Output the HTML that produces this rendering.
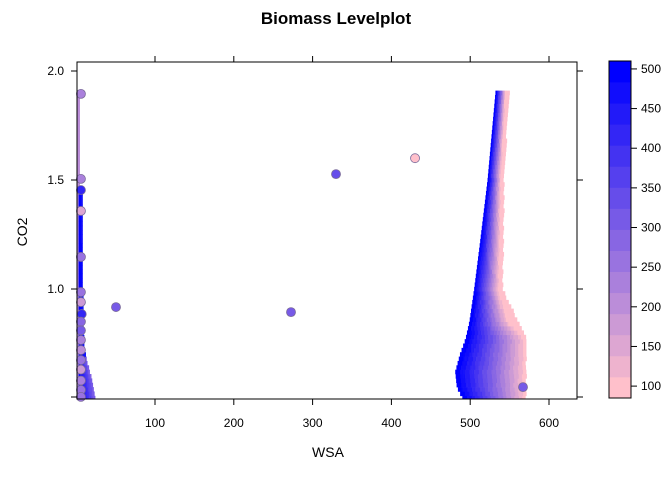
<!DOCTYPE html>
<html><head><meta charset="utf-8"><style>
body{margin:0;background:#fff;font-family:"Liberation Sans",sans-serif}
svg text{font-family:"Liberation Sans",sans-serif}
</style></head><body>
<svg id="c" width="672" height="480"></svg>
<script>
// ---- data ----
const xTicks=[100,200,300,400,500,600];
const yTicks=[1.0,1.5,2.0];
const cbTicks=[100,150,200,250,300,350,400,450,500];
// right region: rows of CO2 with left edge, pink-start, right edge (WSA)
const rCo2  =[0.50,0.55,0.62,0.70,0.77,0.85,1.00,1.20,1.50,1.70,1.90];
const rLeft =[490,483,481,487,494,499,505,512,522,527,532];
const rPink =[570,570,570,570,570,548,536,537,538,541,544];
const rRight=[570,570,570,570,570,560,540,541,542,545,549];
// left blue strip
const lCo2  =[0.50,0.58,0.66,0.72,0.80,1.00,1.45];
const lLeft =[3,3,3,3,3,3,3];
const lRight=[24,20,14,10,9,8,7];
// points
const pWsa=[50.5,272.6,329.7,430,567,6,6,6,6,6,6,6,7,6,6,6,6,6,6,6,6,6];
const pCo2=[0.917,0.894,1.527,1.60,0.55,1.895,1.505,1.454,1.358,1.147,0.986,0.94,0.885,0.85,0.81,0.766,0.72,0.674,0.63,0.58,0.537,0.505];
const pBio=[300,300,330,110,300,240,240,420,150,260,250,180,420,280,300,230,200,250,180,230,260,270];

const svg=document.getElementById('c');const NS='http://www.w3.org/2000/svg';
function el(t,a,p){const e=document.createElementNS(NS,t);for(const k in a)e.setAttribute(k,a[k]);(p||svg).appendChild(e);return e;}
const X=v=>76.2+v*0.788, Y=v=>71+(2-v)*218;
const lo=85,hi=510,N=16;
function col(v){let i=Math.floor((v-lo)/(hi-lo)*N);i=Math.max(0,Math.min(N-1,i));const t=i/(N-1);
return `rgb(${Math.round(255*(1-t))},${Math.round(192*(1-t))},${Math.round(203+52*t)})`;}
function interp(xs,ys,x){for(let i=0;i<xs.length-1;i++){if(x<=xs[i+1]){const t=(x-xs[i])/(xs[i+1]-xs[i]);return ys[i]+t*(ys[i+1]-ys[i]);}}return ys[ys.length-1];}
const clip=el('clipPath',{id:'pc'});el('rect',{x:77,y:62,width:500,height:337},clip);
const g=el('g',{'clip-path':'url(#pc)'});
// right region
for(let c=0.50;c<=1.90001;c+=0.02){
 const L=interp(rCo2,rLeft,c),P=interp(rCo2,rPink,c),R=interp(rCo2,rRight,c);
 for(let w=L;w<R;w+=2){const v=w>=P?90:510-(w-L)/(P-L)*420;
  const r=el('rect',{x:X(w),y:Y(c+0.01),width:0.788*2+0.3,height:218*0.02+0.3,fill:col(v)},g);
  }
}
// left strip pink line
const pl=el('rect',{x:X(1),y:Y(1.9),width:3,height:Y(0.5)-Y(1.9),fill:col(200)},g);

for(let c=0.50;c<=1.45001;c+=0.02){
 const L=interp(lCo2,lLeft,c),R=interp(lCo2,lRight,c);
 for(let w=L;w<R;w+=1){const v=510-(w-L)/Math.max(R-L,1)*(c<0.7?220:40);
  const r=el('rect',{x:X(w),y:Y(c+0.01),width:1.1,height:218*0.02+0.3,fill:col(v)},g);
  }
}
// points
for(let i=0;i<pWsa.length;i++){
 const p=el('circle',{cx:X(pWsa[i]),cy:Y(pCo2[i]),r:4.5,fill:col(pBio[i]),stroke:'#7a6a9a','stroke-width':0.8});
 }
// frame
const fr=el('rect',{x:77,y:62,width:500,height:337,fill:'none',stroke:'#000'});

xTicks.forEach(t=>{const x=X(t);
 el('line',{x1:x,x2:x,y1:399,y2:405,stroke:'#000'});el('line',{x1:x,x2:x,y1:62,y2:56,stroke:'#000'});
 const tx=el('text',{x:x,y:427,'font-size':12,'text-anchor':'middle'});tx.textContent=t;
 });
yTicks.forEach(t=>{const y=Y(t);
 el('line',{x1:77,x2:71,y1:y,y2:y,stroke:'#000'});el('line',{x1:577,x2:583,y1:y,y2:y,stroke:'#000'});
 const tx=el('text',{x:64,y:y+4,'font-size':12,'text-anchor':'end'});tx.textContent=t.toFixed(1);
 });
[0.5].forEach(t=>{const y=Y(t)-1;el('line',{x1:77,x2:71,y1:y,y2:y,stroke:'#000'});el('line',{x1:577,x2:583,y1:y,y2:y,stroke:'#000'});});
// colorbar
const cbTop=61,cbBot=398,bh=(cbBot-cbTop)/N;
for(let i=0;i<N;i++){const v=lo+(i+0.5)*(hi-lo)/N;
 const r=el('rect',{x:609,y:cbBot-(i+1)*bh,width:22,height:bh+0.4,fill:col(v)});
 }
el('rect',{x:609,y:cbTop,width:22,height:cbBot-cbTop,fill:'none',stroke:'#000'});
const CY=v=>cbBot-(v-lo)/(hi-lo)*(cbBot-cbTop);
cbTicks.forEach(t=>{const y=CY(t);el('line',{x1:631,x2:637,y1:y,y2:y,stroke:'#000'});
 const tx=el('text',{x:641,y:y+4,'font-size':12});tx.textContent=t;
 });
const ti=el('text',{x:336,y:24,'font-size':17,'font-weight':'bold','text-anchor':'middle'});ti.textContent='Biomass Levelplot';

const xl=el('text',{x:328,y:457,'font-size':14,'text-anchor':'middle'});xl.textContent='WSA';

const yl=el('text',{x:27,y:232,'font-size':14,'text-anchor':'middle',transform:'rotate(-90 27 232)'});yl.textContent='CO2';

</script>
</body></html>
